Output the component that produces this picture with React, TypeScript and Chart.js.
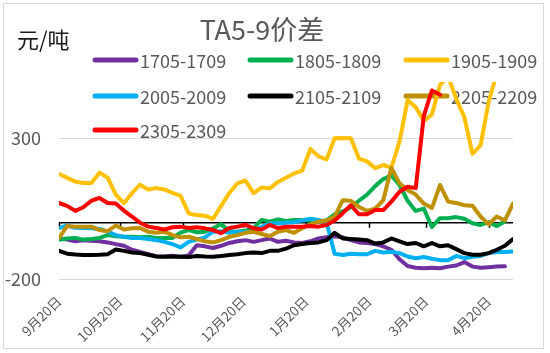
import React, { useEffect, useRef } from 'react';
import { Chart, registerables } from 'chart.js';

Chart.register(...registerables);

// day offsets from 9月20日
const days = [
  0, 4, 8, 12, 16, 20, 24, 28, 32, 36, 40, 44, 48, 52, 56, 60, 64, 68, 72, 76,
  80, 84, 88, 92, 96, 100, 104, 108, 112, 116, 120, 124, 128, 132, 136, 140, 144, 148, 152, 156,
  160, 164, 168, 172, 176, 180, 184, 188, 192, 196, 200, 204, 208, 212, 216, 220, 224,
];

const tickDays = [0, 30, 61, 91, 122, 153, 181, 212];
const tickLabels = ['9月20日', '10月20日', '11月20日', '12月20日', '1月20日', '2月20日', '3月20日', '4月20日'];
const yTicks = [-200, 0, 300];

const seriesNames = ['1705-1709', '1805-1809', '1905-1909', '2005-2009', '2105-2109', '2205-2209', '2305-2309'];
const seriesColors = ['#7030A0', '#00B050', '#FFC000', '#00B0F0', '#000000', '#BF9000', '#FF0000'];

const s1705 = [
  -55, -60, -66, -62, -64, -66, -70, -76, -82, -96,
  -104, -112, -119, -120, -117, -121, -116, -80, -84, -90,
  -82, -72, -66, -62, -68, -62, -56, -68, -64, -70,
  -72, -66, -56, -52, -48, -52, -62, -70, -72, -76,
  -84, -96, -130, -154, -160, -162, -160, -162, -156, -152,
  -140, -156, -160, -158, -156, -155, null,
];
const s1805 = [
  -61, -56, -54, -60, -58, -54, -44, -48, -50, -50,
  -52, -50, -54, -54, -54, -35, -26, -34, -32, -20,
  -5, -30, -32, -28, -19, 10, 4, 12, 6, 10,
  10, 8, 4, 8, 30, 40, 55, 78, 100, 130,
  155, 168, 134, 78, 42, 50, -15, 16, 16, 20,
  14, -2, -8, 2, -12, 4, null,
];
const s1905 = [
  173, 160, 146, 141, 141, 178, 160, 100, 70, 105,
  135, 118, 123, 118, 106, 95, 33, 27, 25, 14,
  60, 105, 140, 150, 105, 125, 122, 145, 160, 175,
  185, 262, 236, 225, 300, 301, 300, 228, 218, 194,
  205, 196, 288, 436, 410, 362, 385, 490, 520, 440,
  375, 245, 275, 430, 530, 560, 580,
];
const s2005 = [
  -19, -10, -18, -19, -20, -22, -32, -44, -50, -54,
  -54, -58, -62, -68, -76, -88, -68, -60, -52, -32,
  -30, -36, -32, -34, -30, -14, -4, -2, 0, 2,
  8, 14, 10, 2, -110, -115, -110, -112, -112, -100,
  -106, -103, -108, -120, -126, -122, -128, -133, -133, -118,
  -126, -121, -118, -108, -104, -104, -102,
];
const s2105 = [
  -100, -110, -113, -115, -115, -114, -112, -95, -100, -106,
  -108, -114, -120, -121, -120, -121, -122, -118, -120, -121,
  -118, -115, -112, -108, -106, -108, -100, -100, -92, -80,
  -76, -72, -70, -62, -36, -56, -58, -60, -62, -74,
  -70, -56, -66, -76, -72, -84, -72, -84, -80, -94,
  -108, -114, -114, -108, -96, -82, -58,
];
const s2205 = [
  -54, -12, -14, -14, -14, -26, -30, -10, -24, -20,
  -19, -32, -36, -32, -44, -52, -50, -58, -66, -70,
  -62, -50, -44, -36, -32, -40, -48, -32, -26, -36,
  -19, -6, 4, 8, 22, 80, 78, 56, 42, 50,
  80, 195, 140, 116, 100, 68, 52, 134, 75, 70,
  62, 60, 22, -6, 22, 8, 68,
];
const s2305 = [
  70, 60, 42, 55, 78, 88, 70, 68, 43, 22,
  0, -14, -19, -24, -16, -14, -19, -16, -20, -26,
  -37, -19, -14, -8, -20, -24, -8, -19, -14, -14,
  -14, -12, -14, -8, 8, 34, 62, 30, 30, 45,
  45, 75, 110, 128, 123, 380, 470, 455, null, null,
  null, null, null, null, null, null, null,
];

const seriesValues = [s1705, s1805, s1905, s2005, s2105, s2205, s2305];

const FONT = "'Noto Sans CJK SC', 'Noto Sans', sans-serif";
const GREY = '#595959';

const overlayPlugin = {
  id: 'overlay',
  beforeDatasetsDraw(chart: any) {
    const ctx = chart.ctx;
    const xs = chart.scales.x;
    const ys = chart.scales.y;
    ctx.save();
    // tick marks on the zero line
    const y0 = ys.getPixelForValue(0);
    ctx.strokeStyle = '#000';
    ctx.lineWidth = 1.5;
    tickDays.forEach((d) => {
      const px = Math.round(xs.getPixelForValue(d)) + 0.5;
      ctx.beginPath();
      ctx.moveTo(px, y0);
      ctx.lineTo(px, y0 + 5);
      ctx.stroke();
    });
    // title
    ctx.fillStyle = GREY;
    ctx.font = `27px ${FONT}`;
    ctx.textAlign = 'center';
    ctx.textBaseline = 'middle';
    ctx.fillText('TA5-9价差', 262, 30);
    // unit
    ctx.fillStyle = '#1a1a1a';
    ctx.font = `22px ${FONT}`;
    ctx.textAlign = 'left';
    ctx.fillText('元/吨', 17, 40);
    // legend
    const colX = [93, 248, 404];
    const rowY = [60, 96, 130];
    ctx.font = `18px ${FONT}`;
    ctx.lineCap = 'round';
    seriesNames.forEach((name, i) => {
      const cx = colX[i % 3];
      const cy = rowY[Math.floor(i / 3)];
      ctx.strokeStyle = seriesColors[i];
      ctx.lineWidth = 5;
      ctx.beginPath();
      ctx.moveTo(cx + 2, cy);
      ctx.lineTo(cx + 43, cy);
      ctx.stroke();
      ctx.fillStyle = GREY;
      ctx.fillText(name, cx + 47, cy + 1);
    });
    ctx.restore();
  },
};

export default function App() {
  const ref = useRef<HTMLCanvasElement>(null);
  useEffect(() => {
    if (!ref.current) return;
    const chart = new Chart(ref.current, {
      type: 'line',
      data: {
        labels: days,
        datasets: seriesNames.map((name, i) => ({
          label: name,
          data: days.map((d, j) => ({ x: d, y: seriesValues[i][j] })),
          borderColor: seriesColors[i],
          backgroundColor: seriesColors[i],
          borderWidth: 4,
          pointRadius: 0,
          tension: 0,
          fill: false,
          spanGaps: false,
          borderJoinStyle: 'round',
          borderCapStyle: 'round',
          order: seriesNames.length - 1 - i,
        })),
      },
      options: {
        animation: false,
        responsive: false,
        devicePixelRatio: 1,
        layout: { padding: { left: 0, top: 82, right: 37, bottom: 0 } },
        plugins: { legend: { display: false }, title: { display: false }, tooltip: { enabled: false } },
        scales: {
          x: {
            type: 'linear',
            min: 0,
            max: 224,
            afterBuildTicks: (s: any) => {
              s.ticks = tickDays.map((v) => ({ value: v }));
            },
            afterFit: (s: any) => {
              s.height = 74;
            },
            grid: { display: false },
            border: { display: false },
            ticks: {
              autoSkip: false,
              maxRotation: 45,
              minRotation: 45,
              padding: 6,
              color: GREY,
              font: { family: FONT, size: 13.5 },
              callback: (v: any) => {
                const k = tickDays.indexOf(Number(v));
                return k >= 0 ? tickLabels[k] : '';
              },
            },
          },
          y: {
            min: -200,
            max: 500,
            afterBuildTicks: (s: any) => {
              s.ticks = yTicks.map((v) => ({ value: v }));
            },
            afterFit: (s: any) => {
              s.width = 59;
            },
            border: { display: false },
            grid: {
              drawTicks: false,
              color: (c: any) => (c.tick && c.tick.value === 0 ? '#000000' : '#d9d9d9'),
              lineWidth: (c: any) => (c.tick && c.tick.value === 0 ? 1.5 : 1),
            },
            ticks: {
              padding: 18,
              color: GREY,
              font: { family: FONT, size: 18 },
              callback: (v: any) => (Number(v) === 0 ? '' : String(v)),
            },
          },
        },
      },
      plugins: [overlayPlugin],
    });
    return () => chart.destroy();
  }, []);

  return (
    <div style={{ position: 'fixed', left: 0, top: 0, width: 550, height: 353, background: '#fff' }}>
      <canvas ref={ref} width={550} height={353} style={{ display: 'block', width: 550, height: 353 }} />
      <div
        style={{
          position: 'absolute',
          left: 3,
          top: 3,
          width: 541,
          height: 346,
          border: '1px solid #d9d9d9',
          boxSizing: 'border-box',
          pointerEvents: 'none',
        }}
      />
    </div>
  );
}
